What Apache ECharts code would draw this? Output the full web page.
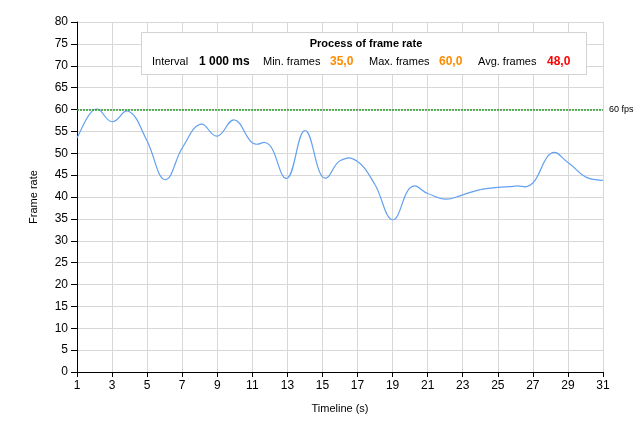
<!DOCTYPE html>
<html>
<head>
<meta charset="utf-8">
<script src="https://cdn.jsdelivr.net/npm/echarts@6/dist/echarts.min.js"></script>
<style>html,body{margin:0;padding:0;background:#fff}#c{width:635px;height:432px}</style>
</head>
<body>
<div id="c"></div>
<script>
const categories = ['1','2','3','4','5','6','7','8','9','10','11','12','13','14','15','16','17','18','19','20','21','22','23','24','25','26','27','28','29','30','31'];
const frameRate = [53.5, 60.0, 57.2, 59.5, 52.8, 44.0, 51.2, 56.6, 53.9, 57.6, 52.4, 51.8, 44.3, 55.2, 44.6, 48.3, 48.1, 42.8, 34.8, 42.1, 40.8, 39.5, 40.5, 41.7, 42.2, 42.5, 43.2, 49.9, 47.9, 44.6, 43.8];
const targetFps = 60;
const targetLabel = '60 fps';
const boxTitle = 'Process of frame rate';
const intervalLabel = 'Interval';
const intervalValue = '1 000 ms';
const minLabel = 'Min. frames';
const minValue = '35,0';
const maxLabel = 'Max. frames';
const maxValue = '60,0';
const avgLabel = 'Avg. frames';
const avgValue = '48,0';

const FONT = '"Liberation Sans", Arial, sans-serif';
const LINE_COLOR = '#62a0f0';
const TARGET_COLOR = '#2a9a2a';
const TENSION = 0.65;
const chart = echarts.init(document.getElementById('c'), null, {renderer: 'canvas'});

function txt(x, text, opts) {
  return {
    type: 'text', z: 101,
    style: Object.assign({x: x, y: 62, text: text, fontFamily: FONT, fontSize: 11, fill: '#000', verticalAlign: 'middle'}, opts || {})
  };
}

// cardinal spline segment between point i and i+1, positioned through the axes
function renderSegment(params, api) {
  const i = params.dataIndex;
  const n = frameRate.length;
  if (i >= n - 1) return null;
  const p = k => api.coord([Math.max(0, Math.min(n - 1, k)), frameRate[Math.max(0, Math.min(n - 1, k))]]);
  const p0 = p(i - 1), p1 = p(i), p2 = p(i + 1), p3 = p(i + 2);
  const t = TENSION / 3;
  return {
    type: 'bezierCurve',
    shape: {
      x1: p1[0], y1: p1[1],
      cpx1: p1[0] + (p2[0] - p0[0]) * t, cpy1: p1[1] + (p2[1] - p0[1]) * t,
      cpx2: p2[0] - (p3[0] - p1[0]) * t, cpy2: p2[1] - (p3[1] - p1[1]) * t,
      x2: p2[0], y2: p2[1]
    },
    style: {stroke: LINE_COLOR, lineWidth: 1.2, fill: null}
  };
}

chart.setOption({
  animation: false,
  backgroundColor: '#fff',
  grid: {left: 77, right: 32, top: 22, bottom: 60, containLabel: false},
  xAxis: {
    type: 'category',
    data: categories,
    boundaryGap: false,
    name: 'Timeline (s)',
    nameLocation: 'middle',
    nameGap: 31,
    nameTextStyle: {fontFamily: FONT, fontSize: 11, color: '#000'},
    axisLine: {lineStyle: {color: '#000', width: 1}},
    axisTick: {show: true, interval: 1, length: 5, lineStyle: {color: '#000'}},
    axisLabel: {interval: 1, fontFamily: FONT, fontSize: 12, color: '#000', margin: 8},
    splitLine: {show: true, interval: 1, lineStyle: {color: '#d8d8d8', width: 1}}
  },
  yAxis: {
    type: 'value',
    min: 0, max: 80, interval: 5,
    name: 'Frame rate',
    nameLocation: 'middle',
    nameGap: 38,
    nameRotate: 90,
    nameTextStyle: {fontFamily: FONT, fontSize: 11, color: '#000'},
    axisLine: {show: true, lineStyle: {color: '#000', width: 1}},
    axisTick: {show: true, length: 6, lineStyle: {color: '#000'}},
    axisLabel: {fontFamily: FONT, fontSize: 12, color: '#000', margin: 9},
    splitLine: {show: true, lineStyle: {color: '#d8d8d8', width: 1}}
  },
  series: [{
    type: 'custom',
    coordinateSystem: 'cartesian2d',
    data: frameRate.map((v, i) => [i, v]),
    encode: {x: 0, y: 1},
    renderItem: renderSegment,
    itemStyle: {color: TARGET_COLOR},
    z: 3,
    markLine: {
      silent: true,
      symbol: ['none', 'none'],
      data: [{yAxis: targetFps, lineStyle: {color: TARGET_COLOR, type: [2, 1], width: 1.5}}],
      lineStyle: {color: TARGET_COLOR, type: [2, 1], width: 1.5, opacity: 1},
      label: {show: true, position: 'end', formatter: targetLabel, fontFamily: FONT, fontSize: 9, color: '#000', distance: 6},
      emphasis: {disabled: true}
    }
  }],
  graphic: [
    {type: 'rect', z: 100, shape: {x: 141.5, y: 32.5, width: 445, height: 42}, style: {fill: '#fff', stroke: '#d3d3d3', lineWidth: 1}},
    {type: 'text', z: 101, style: {x: 366, y: 44, text: boxTitle, fontFamily: FONT, fontSize: 11, fontWeight: 'bold', fill: '#000', align: 'center', verticalAlign: 'middle'}},
    txt(152, intervalLabel),
    txt(199, intervalValue, {fontWeight: 'bold', fontSize: 12}),
    txt(263, minLabel),
    txt(330, minValue, {fontWeight: 'bold', fontSize: 12, fill: '#ff8c00'}),
    txt(369, maxLabel),
    txt(439, maxValue, {fontWeight: 'bold', fontSize: 12, fill: '#ff8c00'}),
    txt(478, avgLabel),
    txt(547, avgValue, {fontWeight: 'bold', fontSize: 12, fill: '#ff0000'})
  ]
});
</script>
</body>
</html>
